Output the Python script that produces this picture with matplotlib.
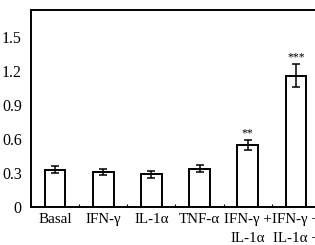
import matplotlib
matplotlib.use("Agg")
import matplotlib.pyplot as plt
from matplotlib.ticker import FixedLocator

categories = ["Basal", "IFN-\u03b3", "IL-1\u03b1", "TNF-\u03b1",
              "IFN-\u03b3 +\nIL-1\u03b1", "IFN-\u03b3 +\nIL-1\u03b1 +\nTNF-\u03b1"]
means = [0.33, 0.31, 0.29, 0.34, 0.545, 1.16]
errors = [0.03, 0.028, 0.03, 0.032, 0.045, 0.10]
stars = ["", "", "", "", "**", "***"]
yticks = [0, 0.3, 0.6, 0.9, 1.2, 1.5]
ytick_labels = ["0", "0.3", "0.6", "0.9", "1.2", "1.5"]

plt.rcParams["font.family"] = ["Liberation Serif", "DejaVu Serif"]
plt.rcParams["font.size"] = 10.8

fig = plt.figure(figsize=(3.15, 2.45), dpi=100)
ax = fig.add_axes([0.098, 0.155, 0.918, 0.804])

x = list(range(len(categories)))
ax.bar(x, means, width=0.43, color="white", edgecolor="black", linewidth=1.4,
       yerr=errors, capsize=3, error_kw={"elinewidth": 1.1, "capthick": 1.1},
       zorder=2)
for xi, m, e, s in zip(x, means, errors, stars):
    if s:
        ax.text(xi, m + e + 0.012, s, ha="center", va="bottom", fontsize=8.5)

ax.set_xlim(-0.5, len(categories) - 0.5)
ax.set_ylim(0, 1.74)
ax.set_xticks(x)
ax.set_xticklabels(categories, linespacing=1.6)
ax.set_yticks(yticks)
ax.set_yticklabels(ytick_labels, fontsize=11.5)
ax.xaxis.set_minor_locator(FixedLocator([i + 0.5 for i in x[:-1]]))
ax.tick_params(axis="x", which="major", length=0, pad=4)
ax.tick_params(axis="x", which="minor", length=2, direction="in", width=0.8)
ax.tick_params(axis="y", length=0, pad=6.5)
for sp in ax.spines.values():
    sp.set_linewidth(1.4)

fig.savefig("out.png", dpi=100)
